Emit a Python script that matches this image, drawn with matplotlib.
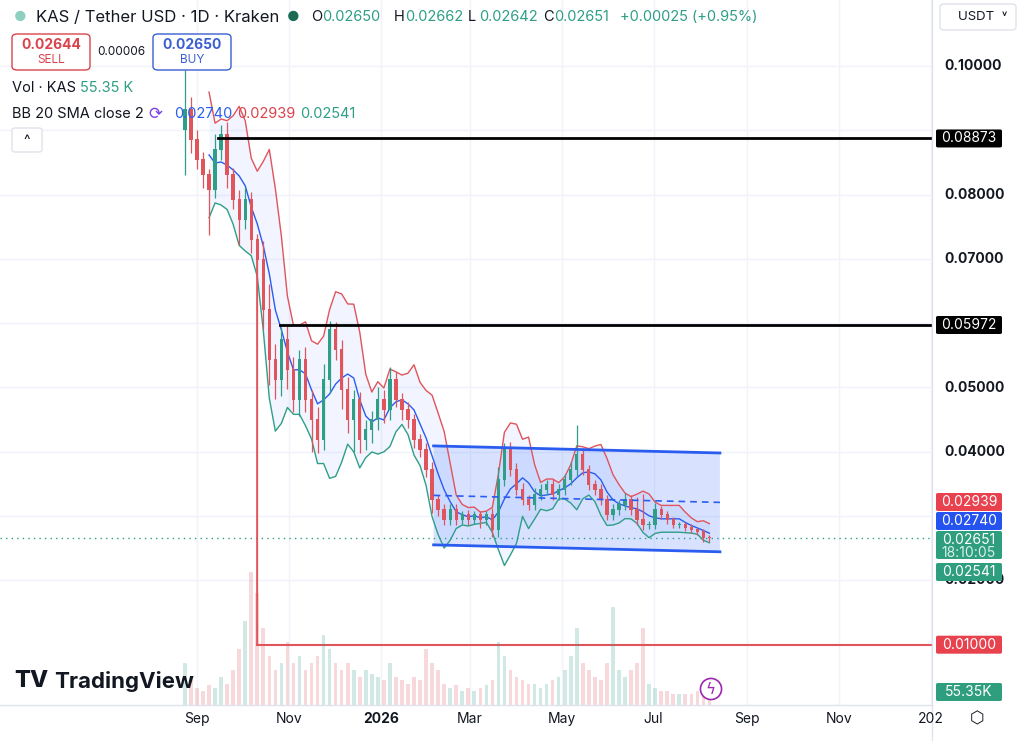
import numpy as np
import matplotlib
matplotlib.use("Agg")
import matplotlib.pyplot as plt
from matplotlib.patches import Polygon, FancyBboxPatch

plt.rcParams['font.family'] = ['Inter', 'DejaVu Sans']

# 4-day candles, day 0 = 1 Sep 2025
start_day = -8
step = 4
closes = [0.0932, 0.0885, 0.0854, 0.0830, 0.0807, 0.0869, 0.0893, 0.0830, 0.0792, 0.0761,
          0.0792, 0.0729, 0.0698, 0.0621, 0.0543, 0.0512, 0.0574, 0.0527, 0.0481, 0.0543,
          0.0481, 0.0449, 0.0418, 0.0512, 0.0589, 0.0558, 0.0496, 0.0449, 0.0481, 0.0418,
          0.0434, 0.0449, 0.0481, 0.0465, 0.0512, 0.0481, 0.0465, 0.0449, 0.0418, 0.0403,
          0.0372, 0.0325, 0.0310, 0.0294, 0.0310, 0.0294, 0.0302, 0.0294, 0.0302, 0.0294,
          0.0302, 0.0278, 0.0356, 0.0403, 0.0372, 0.0341, 0.0325, 0.0317, 0.0333, 0.0341,
          0.0348, 0.0333, 0.0341, 0.0356, 0.0372, 0.0395, 0.0372, 0.0348, 0.0341, 0.0325,
          0.0302, 0.0310, 0.0317, 0.0325, 0.0310, 0.0294, 0.0286, 0.0286, 0.0310, 0.0302,
          0.0294, 0.0286, 0.0286, 0.0282, 0.0278, 0.0275, 0.0266, 0.02651]
opens = [0.0900] + closes[:-1]
up_wick = [0.0062, 0.0020, 0.0015, 0.0012, 0.0010, 0.0025, 0.0015, 0.0020, 0.0012, 0.0015,
           0.0020, 0.0012, 0.0010, 0.0030, 0.0040, 0.0025, 0.0020, 0.0025, 0.0020, 0.0015,
           0.0020, 0.0015, 0.0020, 0.0025, 0.0015, 0.0012, 0.0015, 0.0020, 0.0015, 0.0012,
           0.0015, 0.0015, 0.0020, 0.0015, 0.0020, 0.0012, 0.0010, 0.0012, 0.0010, 0.0010,
           0.0010, 0.0012, 0.0008, 0.0008, 0.0008, 0.0008, 0.0006, 0.0008, 0.0006, 0.0006,
           0.0006, 0.0010, 0.0020, 0.0010, 0.0012, 0.0010, 0.0010, 0.0008, 0.0010, 0.0008,
           0.0008, 0.0010, 0.0008, 0.0010, 0.0012, 0.0047, 0.0010, 0.0008, 0.0008, 0.0008,
           0.0008, 0.0008, 0.0008, 0.0010, 0.0008, 0.0020, 0.0040, 0.0006, 0.0010, 0.0006,
           0.0006, 0.0005, 0.0005, 0.0005, 0.0005, 0.0004, 0.0004, 0.0004]
down_wick = [0.0070, 0.0020, 0.0015, 0.0020, 0.0070, 0.0012, 0.0015, 0.0020, 0.0015, 0.0040,
             0.0015, 0.0020, 0.0598, 0.0030, 0.0040, 0.0030, 0.0025, 0.0030, 0.0020, 0.0025,
             0.0020, 0.0050, 0.0020, 0.0015, 0.0020, 0.0015, 0.0030, 0.0020, 0.0050, 0.0020,
             0.0015, 0.0020, 0.0015, 0.0020, 0.0015, 0.0012, 0.0015, 0.0012, 0.0012, 0.0012,
             0.0012, 0.0020, 0.0010, 0.0008, 0.0008, 0.0008, 0.0006, 0.0008, 0.0006, 0.0012,
             0.0008, 0.0010, 0.0010, 0.0010, 0.0010, 0.0008, 0.0008, 0.0008, 0.0008, 0.0008,
             0.0008, 0.0008, 0.0008, 0.0008, 0.0008, 0.0010, 0.0008, 0.0008, 0.0008, 0.0008,
             0.0008, 0.0008, 0.0008, 0.0008, 0.0008, 0.0008, 0.0008, 0.0006, 0.0006, 0.0006,
             0.0006, 0.0005, 0.0005, 0.0005, 0.0005, 0.0005, 0.0006, 0.0005]
volumes = [30, 18, 12, 10, 14, 12, 20, 15, 25, 40, 60, 95, 80, 55, 35, 25, 30, 45, 30, 35,
           25, 30, 35, 50, 40, 30, 25, 30, 25, 20, 25, 22, 20, 18, 30, 20, 18, 15, 20, 18,
           40, 30, 25, 15, 12, 14, 10, 12, 10, 12, 14, 18, 45, 35, 25, 20, 18, 15, 15, 12,
           15, 18, 20, 25, 35, 55, 30, 25, 20, 18, 30, 70, 25, 20, 25, 30, 55, 15, 12, 10,
           10, 8, 8, 8, 8, 10, 12, 10]

levels_black = [(0.08873, 14), (0.05972, 55)]   # (price, start day)
level_red = (0.01000, 40)
channel_days = [157, 347]
channel_top = [0.0409, 0.0398]
channel_bot = [0.02551, 0.02443]

month_labels = [("Sep", 0), ("Nov", 61), ("2026", 122), ("Mar", 181), ("May", 242),
                ("Jul", 303), ("Sep", 365), ("Nov", 426), ("202", 487)]
price_ticks = [0.10, 0.08, 0.07, 0.05, 0.04, 0.02]

GREEN = '#2f9e86'
RED = '#e0545c'
BLUE = '#2a5cf0'

W, H = 1024, 741
fig = plt.figure(figsize=(W / 100, H / 100), dpi=100)
fig.patch.set_facecolor('white')
ax = fig.add_axes([0, 36 / H, 932 / W, 705 / H])
ax.set_xlim(-130.7, 487.7)
ax.set_ylim(0.0006, 0.11026)
for s in ax.spines.values():
    s.set_visible(False)
ax.set_xticks([])
ax.set_yticks([])

# grid
for _, d in month_labels:
    ax.axvline(d, color='#f0f3fa', lw=1, zorder=0)
for p in price_ticks + [0.06, 0.03, 0.09]:
    ax.axhline(p, color='#f0f3fa', lw=1, zorder=0)

days = np.array([start_day + i * step for i in range(len(closes))])
c = np.array(closes)
o = np.array(opens)

# volume overlay
vax = fig.add_axes([0, 36 / H, 932 / W, 705 / H], sharex=ax)
vax.set_ylim(0, 100 * 705 / 140)
vax.axis('off')
vcol = [GREEN if cc >= oo else RED for cc, oo in zip(c, o)]
vax.bar(days, volumes, width=2.4, color=vcol, alpha=0.22, zorder=1)

# bollinger bands (window 5 on 4-day bars ~ 20 days)
win = 5
mid = np.full(len(c), np.nan)
sd = np.full(len(c), np.nan)
for i in range(win - 1, len(c)):
    mid[i] = c[i - win + 1:i + 1].mean()
    sd[i] = c[i - win + 1:i + 1].std(ddof=1)
upper = mid + 2 * sd
lower = mid - 2 * sd
ax.fill_between(days, lower, upper, color='#2962ff', alpha=0.06, lw=0, zorder=2)
ax.plot(days, upper, color=RED, lw=1, zorder=3)
ax.plot(days, lower, color=GREEN, lw=1, zorder=3)
ax.plot(days, mid, color=BLUE, lw=1, zorder=3)

# channel
poly = Polygon([(channel_days[0], channel_top[0]), (channel_days[1], channel_top[1]),
                (channel_days[1], channel_bot[1]), (channel_days[0], channel_bot[0])],
               closed=True, facecolor='#2962ff', alpha=0.18, lw=0, zorder=2)
ax.add_patch(poly)
ax.plot(channel_days, channel_top, color=BLUE, lw=2, zorder=5)
ax.plot(channel_days, channel_bot, color=BLUE, lw=2, zorder=5)
ax.plot(channel_days, [(a + b) / 2 for a, b in zip(channel_top, channel_bot)],
        color=BLUE, lw=1.2, ls=(0, (4, 3)), zorder=5)

# candles
for d, oo, cc, uw, dw in zip(days, o, c, up_wick, down_wick):
    col = GREEN if cc >= oo else RED
    hi = max(oo, cc) + uw
    lo = min(oo, cc) - dw
    ax.vlines(d, lo, hi, color=col, lw=0.9, zorder=4)
    ax.bar(d, abs(cc - oo) + 0.00015, bottom=min(oo, cc), width=2.2, color=col, zorder=4)

# horizontal levels
for p, d in levels_black:
    ax.plot([d, 487.7], [p, p], color='black', lw=2, zorder=6)
ax.plot([level_red[1], 487.7], [level_red[0]] * 2, color=RED, lw=1.5, zorder=6)
ax.plot([level_red[1]] * 2, [level_red[0], 0.0729], color=RED, lw=1.2, zorder=4)
ax.axhline(closes[-1], color=GREEN, lw=1, ls=(0, (1, 3)), zorder=3)


def py(p):
    # price -> figure pixel y (from top)
    return 66 + (0.10 - p) * 6430


def fy(ypix):
    return 1 - ypix / H


# price scale
fig.add_artist(plt.Line2D([932 / W] * 2, [0, 1], color='#e0e3eb', lw=1))
fig.add_artist(plt.Line2D([0, 932 / W], [36 / H] * 2, color='#e0e3eb', lw=1))
for p in price_ticks:
    fig.text(944 / W, fy(py(p)), f"{p:.5f}", fontsize=10, fontweight='bold',
             color='#131722', va='center', ha='left', zorder=2)


def badge(y, text, color, extra=None):
    h = 18 if extra is None else 28
    top = y - 9
    fig.add_artist(FancyBboxPatch((936 / W, fy(top + h)), 66 / W, h / H,
                                  boxstyle="round,pad=0,rounding_size=0.002", zorder=5,
                                  facecolor=color, edgecolor='none', transform=fig.transFigure))
    fig.text(969 / W, fy(y), text, fontsize=10, color='white', ha='center', va='center', zorder=6)
    if extra:
        fig.text(969 / W, fy(y + 13), extra, fontsize=10, color='#d8f0ea', ha='center',
                 va='center', zorder=6)


badge(py(0.08873), "0.08873", 'black')
badge(py(0.05972), "0.05972", 'black')
badge(502, "0.02939", '#e8424f')
badge(521, "0.02740", '#2453f0')
badge(540, "0.02651", '#2f9e7e', extra="18:10:05")
badge(572, "0.02541", '#2f9e7e')
badge(py(0.01000), "0.01000", '#e8424f')
badge(692, "55.35K", '#2f9e7e')

# time axis
for lab, d in month_labels:
    xp = 197 + d * 1.507
    fig.text(xp / W, fy(719), lab, fontsize=10, color='#131722', ha='center', va='center',
             fontweight='bold' if lab == "2026" else 'normal')
fig.text(977 / W, fy(719), "⬡", fontsize=12, color='#131722', ha='center', va='center')

# header
fig.text(14 / W, fy(17), "●", fontsize=10, color='#8fcfc0', va='center')
fig.text(36 / W, fy(17), "KAS / Tether USD · 1D · Kraken", fontsize=12, color='#131722', va='center')
fig.text(287 / W, fy(17), "●", fontsize=10, color='#1b6b52', va='center')
for lab, val, xx in [("O", "0.02650", 311), ("H", "0.02662", 394), ("L", "0.02642", 468),
                     ("C", "0.02651", 543)]:
    fig.text(xx / W, fy(17), lab, fontsize=10.5, color='#131722', va='center')
    fig.text((xx + 11) / W, fy(17), val, fontsize=10.5, color='#2f9e86', va='center')
fig.text(620 / W, fy(17), "+0.00025 (+0.95%)", fontsize=10.5, color='#2f9e86', va='center')

for bx, val, lab, col in [(12, "0.02644", "SELL", '#d9434c'), (153, "0.02650", "BUY", '#3a5fd0')]:
    fig.add_artist(FancyBboxPatch((bx / W, fy(70)), 78 / W, 36 / H,
                                  boxstyle="round,pad=0,rounding_size=0.005",
                                  facecolor='white', edgecolor=col, lw=1, transform=fig.transFigure))
    fig.text((bx + 39) / W, fy(45), val, fontsize=10, fontweight='bold', color=col, ha='center', va='center')
    fig.text((bx + 39) / W, fy(60), lab, fontsize=8.5, color=col, ha='center', va='center')
fig.text(121 / W, fy(52), "0.00006", fontsize=8.5, color='#131722', ha='center', va='center')
fig.text(12 / W, fy(88), "Vol · KAS", fontsize=10.5, color='#131722', va='center')
fig.text(80 / W, fy(88), "55.35 K", fontsize=10.5, color='#2f9e86', va='center')
fig.text(12 / W, fy(114), "BB 20 SMA close 2", fontsize=10.5, color='#131722', va='center')
fig.text(155 / W, fy(114), "⟳", fontsize=12, color='#7b3fe4', ha='center', va='center')
fig.text(174 / W, fy(114), "0.02740", fontsize=10.5, color='#2a5cf0', va='center')
fig.text(237 / W, fy(114), "0.02939", fontsize=10.5, color='#d9434c', va='center')
fig.text(300 / W, fy(114), "0.02541", fontsize=10.5, color='#2f9e86', va='center')
fig.add_artist(FancyBboxPatch((12 / W, fy(152)), 30 / W, 24 / H,
                              boxstyle="round,pad=0,rounding_size=0.003",
                              facecolor='white', edgecolor='#e0e3eb', lw=1, transform=fig.transFigure))
fig.text(27 / W, fy(141), "^", fontsize=10, color='#131722', ha='center', va='center')

fig.add_artist(FancyBboxPatch((940 / W, fy(30)), 76 / W, 26 / H,
                              boxstyle="round,pad=0,rounding_size=0.004",
                              facecolor='white', edgecolor='#e0e3eb', lw=1, transform=fig.transFigure))
fig.text(958 / W, fy(17), "USDT  ˅", fontsize=9.5, color='#131722', va='center')

# watermark
fig.text(14 / W, fy(681), "TV", fontsize=17, fontweight='heavy', color='#131722', va='center')
fig.text(54 / W, fy(681), "TradingView", fontsize=16, fontweight='bold', color='#131722', va='center')
fig.text(711 / W, fy(689), "ϟ", fontsize=11, color='#9c27b0', ha='center', va='center',
         bbox=dict(boxstyle='circle,pad=0.2', facecolor='white', edgecolor='#9c27b0', lw=1.2))

fig.savefig("out.png", dpi=100)
